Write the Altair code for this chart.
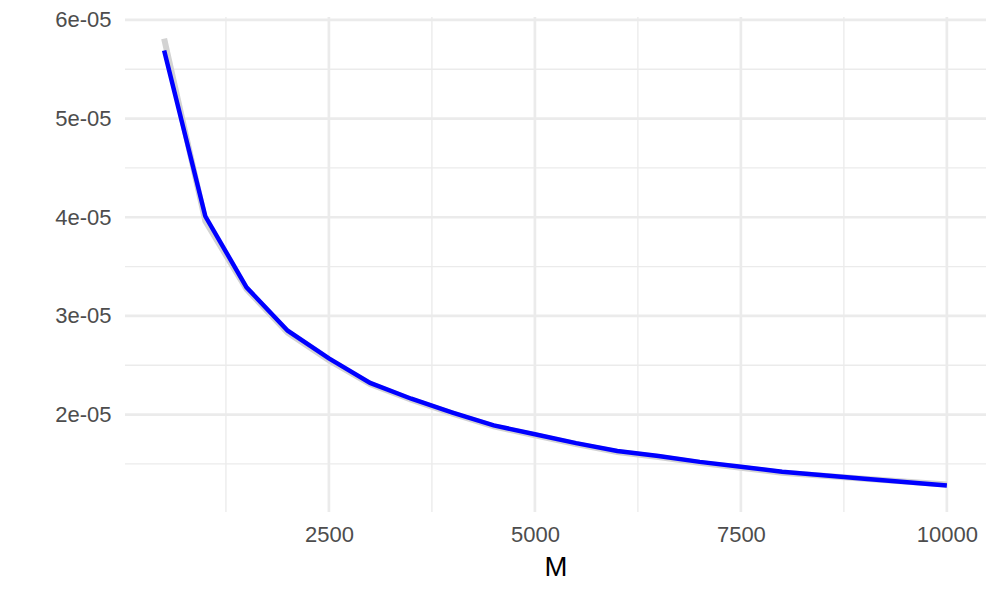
import altair as alt
import pandas as pd

M = [500, 1000, 1500, 2000, 2500, 3000, 3500, 4000, 4500, 5000, 5500, 6000,
     6500, 7000, 7500, 8000, 9000, 10000]
blue_vals = [5.69e-05, 4.01e-05, 3.29e-05, 2.85e-05, 2.57e-05, 2.32e-05, 2.16e-05,
             2.02e-05, 1.89e-05, 1.80e-05, 1.71e-05, 1.63e-05, 1.58e-05, 1.52e-05,
             1.47e-05, 1.42e-05, 1.35e-05, 1.28e-05]
gray_vals = [5.81e-05, 3.96e-05, 3.27e-05, 2.83e-05, 2.55e-05, 2.31e-05, 2.15e-05,
             2.01e-05, 1.88e-05, 1.79e-05, 1.70e-05, 1.62e-05, 1.57e-05, 1.51e-05,
             1.46e-05, 1.41e-05, 1.35e-05, 1.29e-05]

x_major = [2500, 5000, 7500, 10000]
x_minor = [1250, 3750, 6250, 8750]
y_major = [2e-05, 3e-05, 4e-05, 5e-05, 6e-05]
y_minor = [1.5e-05, 2.5e-05, 3.5e-05, 4.5e-05, 5.5e-05]

X_DOMAIN = [25, 10475]
Y_DOMAIN = [1.012e-05, 6.03e-05]

df = pd.DataFrame({"M": M, "blue": blue_vals, "gray": gray_vals})

xs = alt.Scale(domain=X_DOMAIN, nice=False, zero=False)
ys = alt.Scale(domain=Y_DOMAIN, nice=False, zero=False)

label_expr = ("abs(datum.value - 2e-05) < 1e-07 ? '2e-05' : abs(datum.value - 3e-05) < 1e-07 ? '3e-05' : "
              "abs(datum.value - 4e-05) < 1e-07 ? '4e-05' : abs(datum.value - 5e-05) < 1e-07 ? '5e-05' : '6e-05'")

x_axis = alt.Axis(title="M", values=x_major, format="d", grid=False, domain=False,
                  ticks=False, labelFontSize=22, labelColor="#4D4D4D",
                  labelFont="Liberation Sans", labelPadding=12,
                  titleFontSize=27.5, titleFont="Liberation Sans",
                  titleFontWeight="normal", titleColor="#000000", titlePadding=8)
y_axis = alt.Axis(title=None, values=y_major, labelExpr=label_expr, grid=False,
                  domain=False, ticks=False, labelFontSize=22, labelColor="#4D4D4D",
                  labelFont="Liberation Sans", labelPadding=14)

xminor = alt.Chart(pd.DataFrame({"v": x_minor})).mark_rule(color="#EBEBEB", strokeWidth=1.35).encode(
    x=alt.X("v:Q", scale=xs, axis=x_axis, title="M"))
xmajor = alt.Chart(pd.DataFrame({"v": x_major})).mark_rule(color="#EBEBEB", strokeWidth=2.7).encode(
    x=alt.X("v:Q", scale=xs, axis=x_axis, title="M"))
yminor = alt.Chart(pd.DataFrame({"v": y_minor})).mark_rule(color="#EBEBEB", strokeWidth=1.35).encode(
    y=alt.Y("v:Q", scale=ys, axis=y_axis))
ymajor = alt.Chart(pd.DataFrame({"v": y_major})).mark_rule(color="#EBEBEB", strokeWidth=2.7).encode(
    y=alt.Y("v:Q", scale=ys, axis=y_axis))

gray_line = alt.Chart(df).mark_line(color="#D3D3D3", strokeWidth=6).encode(
    x=alt.X("M:Q", scale=xs, axis=x_axis, title="M"),
    y=alt.Y("gray:Q", scale=ys, axis=y_axis))

blue_line = alt.Chart(df).mark_line(color="#0000FF", strokeWidth=4.5).encode(
    x=alt.X("M:Q", scale=xs, axis=x_axis, title="M"),
    y=alt.Y("blue:Q", scale=ys, axis=y_axis))

chart = alt.layer(xminor, xmajor, yminor, ymajor, gray_line, blue_line).properties(
    width=861, height=495,
    autosize=alt.AutoSizeParams(type="none"),
    padding={"left": 117, "top": 9, "right": 6, "bottom": 80},
).configure(background="white").configure_view(stroke="transparent", strokeWidth=0)

chart.save("out.html", embed_options={"renderer": "svg", "actions": False})
